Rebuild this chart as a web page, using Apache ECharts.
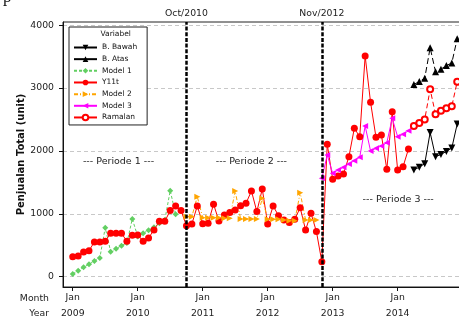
<!DOCTYPE html>
<html><head><meta charset="utf-8">
<script src="https://cdn.jsdelivr.net/npm/echarts@6/dist/echarts.min.js"></script>
<style>html,body{margin:0;padding:0;background:#fff}#c{width:459px;height:320px}</style>
</head><body><div id="c"></div>
<script>
// ---- tick labels / annotations ----
const xTickMonths = [0, 12, 24, 36, 48, 60];
const xTickLabels = ['Jan\n2009', 'Jan\n2010', 'Jan\n2011', 'Jan\n2012', 'Jan\n2013', 'Jan\n2014'];
const yTicks = [0, 1000, 2000, 3000, 4000];
const yTickLabels = ['0', '1000', '2000', '3000', '4000'];
const breakMonths = [21, 46];
const breakLabels = ['Oct/2010', 'Nov/2012'];
const periodNames = ['--- Periode 1 ---', '--- Periode 2 ---', '--- Periode 3 ---'];
const periodMonths = [8.45, 33, 60.1];
const periodValues = [1831, 1829, 1220];

// ---- series (month index 0 = Jan 2009) ----
const y11tStart = 0;
const y11t = [318, 329, 393, 413, 552, 552, 563, 690, 690, 690, 563, 658, 663, 563, 615, 742, 880, 880, 1050, 1124,
  1050, 811, 838, 1124, 843, 849, 1151, 886, 981, 1018, 1060, 1129, 1167, 1362, 1034, 1394, 838, 1124, 970, 901,
  859, 912, 1097, 742, 1008, 716, 238, 2105, 1548, 1601, 1633, 1908, 2359, 2226, 3509, 2772, 2216, 2253, 1707, 2623,
  1696, 1749, 2030];
const model1Start = 0;
const model1 = [43, 95, 149, 197, 250, 297, 779, 397, 445, 493, 536, 917, 640, 690, 738, 785, 850, 901, 1367, 992];
const model2Start = 21;
const model2 = [954, 954, 1272, 938, 938, 938, 938, 928, 928, 1362, 917, 917, 917, 917, 1246, 912, 912, 912, 901, 890,
  890, 1335, 901, 901, 901];
const model3Start = 46;
const model3 = [1564, 1935, 1644, 1696, 1739, 1792, 1845, 1898, 2396, 1998, 2041, 2078, 2131, 2518, 2226, 2264, 2321];
const ramalanStart = 63;
const ramalan = [2396, 2445, 2500, 2979, 2582, 2637, 2677, 2711, 3100];
const bAtasStart = 63;
const bAtas = [3055, 3105, 3154, 3640, 3259, 3300, 3358, 3397, 3785];
const bBawahStart = 63;
const bBawah = [1696, 1741, 1797, 2292, 1908, 1943, 1992, 2046, 2428];

const toPairs = (start, vals) => vals.map((v, i) => [start + i, v]);
const FONT = 'DejaVu Sans';
const TXT = '#222';

const chart = echarts.init(document.getElementById('c'), null, {renderer: 'canvas'});
const option = {
  animation: false,
  backgroundColor: '#fff',
  textStyle: {fontFamily: FONT},
  grid: {left: 63, top: 22, width: 398, height: 265, show: true, borderColor: '#222', borderWidth: 1,
    backgroundColor: 'transparent', containLabel: false, outerBoundsMode: 'none'},
  xAxis: {
    type: 'value', min: -1.8, max: 71.7,
    axisLine: {show: true, onZero: false, lineStyle: {color: '#111', width: 1}},
    axisTick: {show: true, customValues: xTickMonths, length: 4, lineStyle: {color: '#111'}},
    axisLabel: {show: true, customValues: xTickMonths, formatter: v => xTickLabels[xTickMonths.indexOf(v)],
      fontSize: 9.3, color: TXT, lineHeight: 16, margin: 3, fontFamily: FONT},
    splitLine: {show: false}
  },
  yAxis: {
    type: 'value', min: -165, max: 4050,
    name: 'Penjualan Total (unit)', nameLocation: 'middle', nameGap: 37, nameMoveOverlap: false,
    nameTextStyle: {fontWeight: 'bold', fontSize: 10, color: '#111', fontFamily: FONT},
    axisLine: {show: true, onZero: false, lineStyle: {color: '#111', width: 1}},
    axisTick: {show: true, customValues: yTicks, length: 4, lineStyle: {color: '#111'}},
    axisLabel: {show: true, customValues: yTicks, formatter: v => yTickLabels[yTicks.indexOf(v)],
      fontSize: 9.3, color: TXT, margin: 9, fontFamily: FONT},
    splitLine: {show: true, lineStyle: {color: '#c8c8c8', type: [4, 3], width: 1}}
  },
  legend: {
    orient: 'vertical', left: 69, top: 27, padding: [16.5, 10, 3.5, 4], itemGap: 3.66,
    itemWidth: 23, itemHeight: 7, backgroundColor: '#fff', borderColor: '#222', borderWidth: 1, borderRadius: 0,
    textStyle: {fontSize: 7.5, color: '#111', lineHeight: 7, fontFamily: FONT},
    data: [
      {name: 'B. Bawah'},
      {name: 'B. Atas', lineStyle: {type: 'solid'}},
      {name: 'Model 1'},
      {name: 'Y11t'},
      {name: 'Model 2'},
      {name: 'Model 3'},
      {name: 'Ramalan', lineStyle: {type: 'solid'}, itemStyle: {borderWidth: 1}}
    ]
  },
  graphic: [
    {type: 'text', x: 115.7, y: 34, style: {text: 'Variabel', fontSize: 7.5, fill: '#111', fontFamily: FONT, align: 'center', verticalAlign: 'middle'}, z: 100},
    {type: 'text', x: 49, y: 299, style: {text: 'Month', fontSize: 9.3, fill: TXT, fontFamily: FONT, align: 'right', verticalAlign: 'middle'}},
    {type: 'text', x: 49, y: 313.5, style: {text: 'Year', fontSize: 9.3, fill: TXT, fontFamily: FONT, align: 'right', verticalAlign: 'middle'}},
    {type: 'text', x: 3, y: -11, style: {text: 'p', fontSize: 17, fill: '#111', fontFamily: 'Liberation Serif'}}
  ],
  series: [
    {name: 'B. Bawah', type: 'line', data: toPairs(bBawahStart, bBawah), symbol: 'triangle', symbolRotate: 180, symbolSize: 7,
      itemStyle: {color: '#000'}, lineStyle: {color: '#000', width: 1}},
    {name: 'B. Atas', type: 'line', data: toPairs(bAtasStart, bAtas), symbol: 'triangle', symbolSize: 7,
      itemStyle: {color: '#000'}, lineStyle: {color: '#000', width: 1, type: [6, 3]}},
    {name: 'Model 1', type: 'line', data: toPairs(model1Start, model1), symbol: 'diamond', symbolSize: 6,
      itemStyle: {color: '#62cf62'}, lineStyle: {color: '#62cf62', width: 1, type: [3, 2]}},
    {name: 'Y11t', type: 'line', data: toPairs(y11tStart, y11t), symbol: 'circle', symbolSize: 7,
      itemStyle: {color: '#ff0000'}, lineStyle: {color: '#ff0000', width: 1},
      markLine: {
        silent: true, symbol: ['none', 'none'], animation: false,
        lineStyle: {color: '#000', width: 2.5, type: [4, 1.7]},
        label: {show: true, position: 'end', formatter: '{b}', color: TXT, fontSize: 9.3, distance: 4, fontFamily: FONT},
        emphasis: {disabled: true},
        data: breakMonths.map((m, i) => ({xAxis: m, name: breakLabels[i]}))
      },
      markPoint: {
        silent: true, symbol: 'circle', symbolSize: 0, animation: false,
        label: {show: true, position: 'inside', formatter: '{b}', color: TXT, fontSize: 9.5, fontFamily: FONT},
        itemStyle: {color: 'transparent'},
        data: periodNames.map((n, i) => ({name: n, coord: [periodMonths[i], periodValues[i]]}))
      }},
    {name: 'Model 2', type: 'line', data: toPairs(model2Start, model2), symbol: 'triangle', symbolRotate: -90, symbolSize: 6,
      itemStyle: {color: '#ffa500'}, lineStyle: {color: '#ffa500', width: 1, type: [4, 2, 1, 2]}},
    {name: 'Model 3', type: 'line', data: toPairs(model3Start, model3), symbol: 'triangle', symbolRotate: 90, symbolSize: 6,
      itemStyle: {color: '#ff00ff'}, lineStyle: {color: '#ff00ff', width: 1}},
    {name: 'Ramalan', type: 'line', data: toPairs(ramalanStart, ramalan), symbol: 'emptyCircle', symbolSize: 6,
      itemStyle: {color: '#ff0000', borderWidth: 1}, lineStyle: {color: '#ff0000', width: 1, type: [5, 3]}}
  ]
};
chart.setOption(option);
</script>
</body></html>
